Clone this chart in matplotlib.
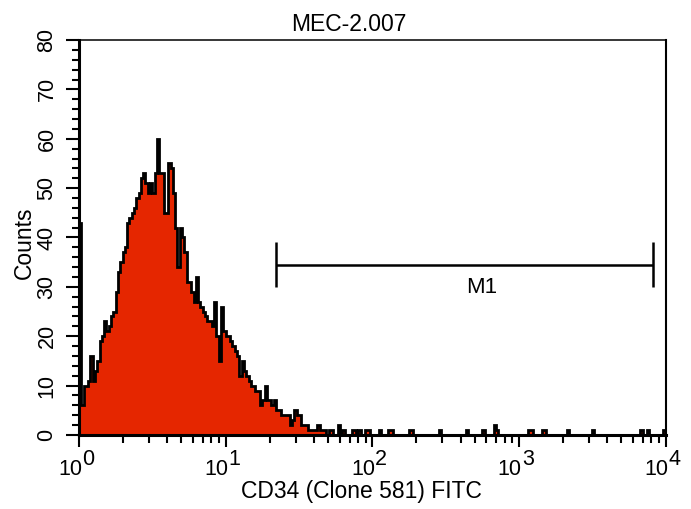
import numpy as np
import matplotlib
matplotlib.use("Agg")
import matplotlib.pyplot as plt
import matplotlib.transforms as mtransforms
from matplotlib.ticker import MultipleLocator, LogLocator, NullFormatter

# ---- data ----
title = "MEC-2.007"
x_label = "CD34 (Clone 581) FITC"
y_label = "Counts"
n_channels = 256
x_decades = [0, 1, 2, 3, 4]

# channels 0..107 (dense part of the histogram)
main_counts = [43, 6, 10, 10, 11, 16, 11, 13, 15, 19,
               20, 23, 21, 22, 24, 25, 29, 33, 35, 37,
               38, 43, 44, 45, 46, 48, 49, 52, 53, 51,
               49, 51, 49, 53, 60, 53, 53, 45, 45, 55,
               54, 49, 42, 34, 42, 40, 37, 31, 31, 29,
               27, 32, 27, 26, 25, 24, 23, 23, 22, 27,
               20, 15, 26, 21, 20, 20, 19, 18, 17, 16,
               12, 15, 13, 12, 11, 10, 10, 9, 9, 6,
               7, 10, 7, 7, 6, 7, 5, 5, 4, 4,
               4, 4, 2, 3, 5, 4, 4, 2, 2, 2,
               1, 1, 1, 1, 2, 1, 1, 1]

# sparse tail: channel index and count
tail_channels = [109, 110, 113, 115, 119, 120, 122, 125, 126, 131,
                 135, 136, 144, 145, 157, 169, 176, 181, 182, 196,
                 197, 202, 203, 213, 224, 245, 248, 255]
tail_counts = [1, 1, 2, 1, 1, 1, 1, 1, 1, 1,
               1, 1, 1, 1, 1, 1, 1, 2, 1, 1,
               1, 1, 1, 1, 1, 1, 1, 1]

marker_label = "M1"
marker_lo, marker_hi, marker_y = 22.1, 8190.0, 34.5

# ---- build histogram ----
counts = np.zeros(n_channels)
counts[:len(main_counts)] = main_counts
counts[tail_channels] = tail_counts
edges = 10 ** (np.arange(n_channels + 1) * 4.0 / n_channels)

plt.rcParams['font.family'] = ['Liberation Sans', 'DejaVu Sans']

fig = plt.figure(figsize=(6.91, 5.09), dpi=100)
ax = fig.add_axes([0.1143, 0.1454, 0.8488, 0.776])

red = '#E52600'
ax.stairs(counts, edges, fill=True, color=red, zorder=2)
ax.stairs(counts, edges, color='black', lw=2.0, zorder=3)

ax.set_xscale('log')
ax.set_xlim(1, 1e4)
ax.set_ylim(0, 80)

# spines
ax.spines['left'].set_linewidth(2.2)
ax.spines['bottom'].set_linewidth(2.2)
ax.spines['top'].set_linewidth(1.1)
ax.spines['right'].set_linewidth(1.5)
for s in ax.spines.values():
    s.set_zorder(4)

# y ticks
ax.yaxis.set_major_locator(MultipleLocator(10))
ax.yaxis.set_minor_locator(MultipleLocator(2))
ax.tick_params(axis='y', which='major', direction='out', length=9.4, width=1.5,
               labelsize=15.5, labelrotation=90, pad=6)
ax.tick_params(axis='y', which='minor', direction='out', length=5, width=1.5)
for lab in ax.get_yticklabels():
    lab.set_va('center')

# x ticks
ax.xaxis.set_major_locator(LogLocator(base=10, numticks=10))
ax.xaxis.set_minor_locator(LogLocator(base=10, subs=np.arange(2, 10), numticks=20))
ax.xaxis.set_major_formatter(NullFormatter())
ax.xaxis.set_minor_formatter(NullFormatter())
ax.tick_params(axis='x', which='major', direction='out', length=8.6, width=1.5)
ax.tick_params(axis='x', which='minor', direction='out', length=5.5, width=1.5)

# x tick labels "10" with full-size exponent
base_tr = mtransforms.blended_transform_factory(ax.transData, fig.transFigure)
tr = mtransforms.offset_copy(base_tr, fig=fig, x=3, y=0, units='dots')
for d in x_decades:
    ax.text(10.0 ** d, (509 - 475) / 509, "10", transform=tr, ha='right',
            va='baseline', fontsize=15.5, clip_on=False)
    ax.text(10.0 ** d, (509 - 465) / 509, str(d), transform=tr, ha='left',
            va='baseline', fontsize=15.5, clip_on=False)

# marker M1
ax.hlines(marker_y, marker_lo, marker_hi, color='black', lw=1.8, zorder=5)
ax.vlines([marker_lo, marker_hi], marker_y - 4.6, marker_y + 4.6, color='black',
          lw=1.8, zorder=5)
ax.text(10 ** ((np.log10(marker_lo) + np.log10(marker_hi)) / 2 + 0.12), 28.8,
        marker_label, ha='center', va='baseline', fontsize=16)

# titles / labels
fig.text(348.5 / 691, (509 - 31) / 509, title, ha='center', va='baseline', fontsize=16.5)
fig.text(361.5 / 691, (509 - 498) / 509, x_label, ha='center', va='baseline', fontsize=16.5)
fig.text(24 / 691, (509 - 243) / 509, y_label, ha='center', va='center',
         rotation=90, fontsize=16.5)

fig.savefig('out.png', dpi=100)
